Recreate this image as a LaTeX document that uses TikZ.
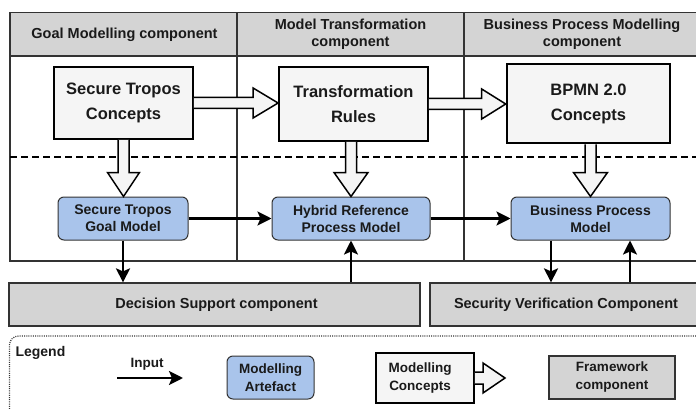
\documentclass[tikz,border=0pt]{standalone}
\usepackage{fontspec}
\setmainfont{Liberation Sans}
\usetikzlibrary{arrows.meta,calc}

\definecolor{hdrgray}{HTML}{D4D4D4}
\definecolor{conceptfill}{HTML}{F5F5F5}
\definecolor{artefactblue}{HTML}{A9C4EB}
\definecolor{framecol}{HTML}{333333}
\definecolor{inkcol}{HTML}{1A1A1A}

% wide hollow arrow pointing right: start anchor, end point, head length, shaft half width, head half width
\newcommand\FatRight[5]{%
  \draw[fatarrow] let \p1=(#1), \p2=(#2) in
    (\x1,\y1+#4) -- (\x2-#3,\y1+#4) -- (\x2-#3,\y1+#5) -- (\x2,\y1)
    -- (\x2-#3,\y1-#5) -- (\x2-#3,\y1-#4) -- (\x1,\y1-#4);}
% wide hollow arrow pointing down
\newcommand\FatDown[5]{%
  \draw[fatarrow] let \p1=(#1), \p2=(#2) in
    (\x1-#4,\y1) -- (\x1-#4,\y2+#3) -- (\x1-#5,\y2+#3) -- (\x1,\y2)
    -- (\x1+#5,\y2+#3) -- (\x1+#4,\y2+#3) -- (\x1+#4,\y1);}

\tikzset{
  txt/.style={text=inkcol, font=\bfseries},
  hdrtext/.style={txt, align=center, font=\bfseries\fontsize{14.5}{17}\selectfont},
  concept/.style={draw=black, line width=1.8pt, fill=conceptfill, inner sep=0pt,
    align=center, txt, font=\bfseries\fontsize{16.5}{25}\selectfont},
  artefact/.style={draw=framecol, line width=1pt, fill=artefactblue, rounded corners=6pt,
    inner sep=0pt, align=center, txt, font=\bfseries\fontsize{14}{17}\selectfont},
  fwcomp/.style={draw=framecol, line width=1.2pt, fill=hdrgray, inner sep=0pt,
    align=center, txt, font=\bfseries\fontsize{14.5}{17}\selectfont},
  framepart/.style={draw=framecol, line width=1.2pt},
  fatarrow/.style={draw=black, line width=1.5pt, fill=conceptfill, line join=miter},
  flow/.style={draw=black, line width=2.4pt,
    -{Stealth[length=14pt,width=14pt,inset=3pt]}},
  sep/.style={draw=black, line width=1.8pt, dash pattern=on 7pt off 4pt},
  legendbox/.style={draw=framecol, line width=1.2pt, dash pattern=on 1pt off 1.2pt,
    rounded corners=9pt},
}

\begin{document}
\begin{tikzpicture}[x=1pt,y=-1pt]
\useasboundingbox (0,0) rectangle (696,409);
\clip (0,0) rectangle (696,409);

% framework frame: header band, columns
\fill[hdrgray] (10,12.5) rectangle (702,56);
\draw[framepart] (702,12.5) -- (10,12.5) -- (10,261) -- (702,261);
\draw[framepart] (10,56) -- (702,56);
\draw[framepart] (237,12.5) -- (237,261);
\draw[framepart] (464,12.5) -- (464,261);

\node[hdrtext] (hgoal) at (124.5,35) {Goal Modelling component};
\node[hdrtext] (htrans) at (350.5,34.5) {Model Transformation\\component};
\node[hdrtext] (hbpm) at (582,34.5) {Business Process Modelling\\component};

% boundary between concept level and model level
\draw[sep] (10,157) -- (702,157);

% concept boxes
\node[concept, minimum width=139pt, minimum height=72pt] (stc) at (123.5,103) {Secure Tropos\\Concepts};
\node[concept, minimum width=149pt, minimum height=74pt] (trc) at (353.5,104) {Transformation\\Rules};
\node[concept, line width=2.6pt, minimum width=163pt, minimum height=79pt] (bpc) at (588.5,103.5) {BPMN 2.0\\Concepts};

% modelling artefacts
\node[artefact, minimum width=130pt, minimum height=43pt] (stg) at (123,218.5) {Secure Tropos\\Goal Model};
\node[artefact, minimum width=158pt, minimum height=43pt] (hyb) at (351,218.5) {Hybrid Reference\\Process Model};
\node[artefact, minimum width=159pt, minimum height=43pt] (bpm) at (590.5,218.5) {Business Process\\Model};

% framework components below
\node[fwcomp, minimum width=411pt, minimum height=43pt] (dsc) at (214.5,304.5) {\hspace*{4pt}Decision Support component};
\node[fwcomp, minimum width=272pt, minimum height=43pt] (svc) at (566,304.5) {Security Verification Component};

% concept inputs
\FatRight{stc.east}{trc.west}{25pt}{5.5pt}{15pt}
\FatRight{trc.east}{bpc.west}{24pt}{5.5pt}{15pt}
\FatDown{stc.south}{stg.north}{24pt}{5.5pt}{16pt}
\FatDown{trc.south -| hyb.north}{hyb.north}{24pt}{5.5pt}{17pt}
\FatDown{bpc.south -| bpm.north}{bpm.north}{24pt}{5.5pt}{17pt}

% model flows
\draw[flow] (stg) -- (hyb);
\draw[flow] (hyb) -- (bpm);
\draw[flow] (stg.south) -- (stg.south |- dsc.north);
\draw[flow] (dsc.north -| hyb.south) -- (hyb.south);
\draw[flow] ([xshift=-39.5pt]bpm.south) -- ([xshift=-39.5pt]bpm.south |- svc.north);
\draw[flow] ([xshift=39.5pt]bpm.south |- svc.north) -- ([xshift=39.5pt]bpm.south);

% legend
\draw[legendbox] (9.5,420) -- (9.5,336) -- (702,336);
\node[txt, anchor=base west, font=\bfseries\fontsize{14}{17}\selectfont] (leg) at (12,356) {Legend};
\coordinate (inA) at (117,378);
\coordinate (inB) at (183,378);
\draw[flow] (inA) -- (inB);
\node[txt, anchor=base, font=\bfseries\fontsize{13.5}{16}\selectfont] (inlbl) at (147,367) {Input};
\node[artefact, font=\bfseries\fontsize{13.5}{18}\selectfont, minimum width=87pt, minimum height=43pt] (legart) at (270.5,377.5) {Modelling\\Artefact};
\node[concept, font=\bfseries\fontsize{13.5}{18}\selectfont, minimum width=98pt, minimum height=50pt] (legcon) at (425,378) {Modelling\hspace*{10pt}\\Concepts\hspace*{10pt}};
\coordinate (legtip) at (505,378);
\FatRight{legcon.east}{legtip}{22pt}{6pt}{15pt}
\node[fwcomp, font=\bfseries\fontsize{13.5}{18}\selectfont, minimum width=126pt, minimum height=43pt] (legfw) at (612,377.5) {Framework\\component};
\end{tikzpicture}
\end{document}
